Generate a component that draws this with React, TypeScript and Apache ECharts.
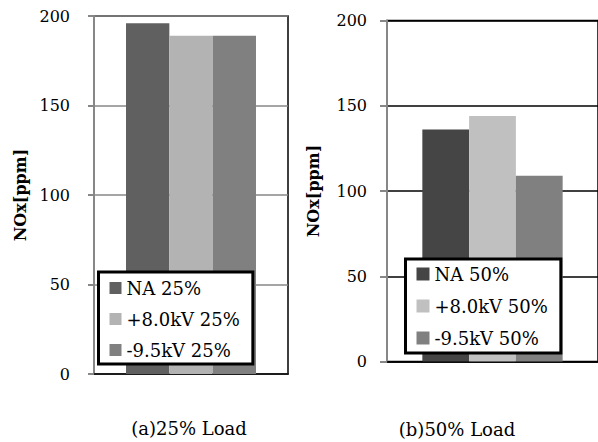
import { useEffect, useRef } from "react";
import * as echarts from "echarts";

// NOx emissions at 25% and 50% engine load
const categories = [""];
const seriesNames25 = ["NA 25%", "+8.0kV 25%", "-9.5kV 25%"];
const seriesNames50 = ["NA 50%", "+8.0kV 50%", "-9.5kV 50%"];
const values25 = [196, 189, 189];
const values50 = [136, 144, 109];
const colors25 = ["#606060", "#b3b3b3", "#808080"];
const colors50 = ["#454545", "#c0c0c0", "#808080"];
const yTicks = [0, 50, 100, 150, 200];
const panelLabels = ["(a)25% Load", "(b)50% Load"];
const axisTitle = "NOx[ppm]";

const FONT = "'DejaVu Serif', serif";

export default function App() {
  const ref = useRef<HTMLDivElement>(null);

  useEffect(() => {
    if (!ref.current) return;
    const chart = echarts.init(ref.current, undefined, { renderer: "svg" });

    const yAxisBase = (splitColor: string, margin: number, tickLen: number) => ({
      type: "value" as const,
      min: yTicks[0],
      max: yTicks[yTicks.length - 1],
      interval: 50,
      name: axisTitle,
      nameLocation: "middle" as const,
      nameRotate: 90,
      nameTextStyle: { fontFamily: FONT, fontWeight: "bold" as const, fontSize: 16, color: "#000" },
      axisLine: { show: true, lineStyle: { color: "#878787", width: 2 } },
      axisTick: { show: true, length: tickLen, lineStyle: { color: "#878787", width: 2 } },
      axisLabel: { fontFamily: FONT, fontSize: 16, color: "#000", margin },
      splitLine: { show: true, lineStyle: { color: splitColor, width: 1.5 } },
    });

    const xAxisBase = (gridIndex: number) => ({
      type: "category" as const,
      gridIndex,
      data: categories,
      axisLine: { show: true, lineStyle: { color: "#000", width: 1.5 } },
      axisTick: { show: false },
      axisLabel: { show: false },
    });

    const legendBase = {
      orient: "vertical" as const,
      icon: "rect",
      backgroundColor: "#fff",
      borderColor: "#000",
      borderWidth: 3,
      borderRadius: 0,
      textStyle: { fontFamily: FONT, fontSize: 18, color: "#000", lineHeight: 20 },
      z: 10,
    };

    chart.setOption({
      animation: false,
      backgroundColor: "#fff",
      grid: [
        { left: 94, top: 16, width: 194, height: 358, show: true, borderColor: "#000", borderWidth: 1.5, backgroundColor: "transparent" },
        { left: 387, top: 20.5, width: 213, height: 341, show: true, borderColor: "#000", borderWidth: 1.5, backgroundColor: "transparent" },
      ],
      xAxis: [xAxisBase(0), xAxisBase(1)],
      yAxis: [
        { ...yAxisBase("#878787", 24, 6), gridIndex: 0, nameGap: 66 },
        { ...yAxisBase("#000", 20, 7), gridIndex: 1, nameGap: 66 },
      ],
      legend: [
        {
          ...legendBase,
          data: seriesNames25,
          left: 98.5,
          top: 272,
          padding: [6, 13, 4, 11],
          itemGap: 11,
          itemWidth: 12,
          itemHeight: 12,
        },
        {
          ...legendBase,
          data: seriesNames50,
          left: 405.5,
          top: 259,
          padding: [5, 13, 5, 11],
          itemGap: 12,
          itemWidth: 13,
          itemHeight: 13,
        },
      ],
      series: [
        ...seriesNames25.map((name, i) => ({
          type: "bar" as const,
          name,
          xAxisIndex: 0,
          yAxisIndex: 0,
          data: [values25[i]],
          itemStyle: { color: colors25[i] },
          barGap: "0%",
          barCategoryGap: "33%",
        })),
        ...seriesNames50.map((name, i) => ({
          type: "bar" as const,
          name,
          xAxisIndex: 1,
          yAxisIndex: 1,
          data: [values50[i]],
          itemStyle: { color: colors50[i] },
          barGap: "0%",
          barCategoryGap: "33.5%",
        })),
      ],
      graphic: [
        {
          type: "text",
          x: 189,
          y: 428,
          style: { text: panelLabels[0], fontFamily: FONT, fontSize: 18, fill: "#000", align: "center", verticalAlign: "middle" },
        },
        {
          type: "text",
          x: 457,
          y: 429,
          style: { text: panelLabels[1], fontFamily: FONT, fontSize: 18, fill: "#000", align: "center", verticalAlign: "middle" },
        },
      ],
    });

    return () => chart.dispose();
  }, []);

  return (
    <div
      ref={ref}
      style={{ position: "fixed", left: 0, top: 0, width: 598, height: 442 }}
    />
  );
}
